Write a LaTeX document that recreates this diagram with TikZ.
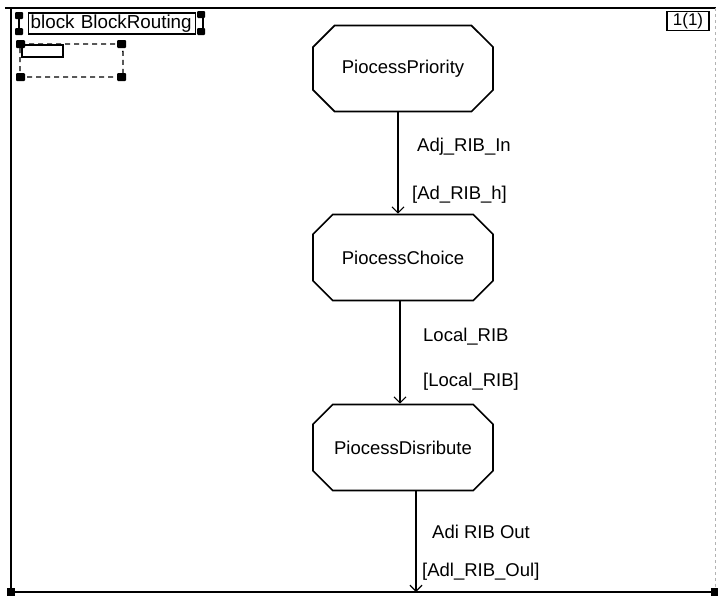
\documentclass[tikz,border=0pt]{standalone}
\usepackage{fontspec}
\setmainfont{Liberation Sans}
\usetikzlibrary{shapes.misc,arrows.meta}
\begin{document}
\begin{tikzpicture}[x=1pt,y=-1pt,
  proc/.style={draw,line width=1.6pt,chamfered rectangle,chamfered rectangle xsep=18pt,chamfered rectangle ysep=13pt,minimum width=180pt,minimum height=86pt,inner sep=0pt,font=\fontsize{18.5}{22}\selectfont},
  lbl/.style={anchor=west,inner sep=0pt,font=\fontsize{18.5}{22}\selectfont},
  flow/.style={line width=1.4pt,-{Straight Barb[length=6pt,width=12pt,line width=1.2pt]}},
  handle/.style={fill=black,rounded corners=1pt}]
\useasboundingbox (0,0) rectangle (718,597);
% frame
\draw[line width=1.2pt] (5,8) -- (716,8);
\draw[line width=2.8pt] (11,8) -- (11,592);
\draw[line width=1.8pt] (11,592) -- (716,592);
\draw[gray!60,dashed,line width=0.8pt] (715,8) -- (715,592);
\fill (7,588) rectangle (15,596);
\fill (711,588) rectangle (718,596);
% block header
\node[draw,line width=1.4pt,anchor=west,inner xsep=2pt,inner ysep=0pt,minimum height=21pt,minimum width=167pt,text width=163pt,align=left,font=\fontsize{18.8}{20}\selectfont] (hdr) at (28,23.5) {block BlockRouting};
\draw[line width=1.8pt] (19,15) -- (19,31);
\fill[handle] (15,12) rectangle (23,19);
\fill[handle] (15,28) rectangle (23,35);
\draw[line width=1.8pt] (198,15) -- (203,15) -- (203,31) -- (198,31);
\fill[handle] (197,11) rectangle (205,18);
\fill[handle] (197,28) rectangle (205,35);
% symbol area
\draw[line width=1.4pt,dash pattern=on 5pt off 4pt] (20,44) -- (121,44) -- (123,52) -- (123,77) -- (20,77) -- cycle;
\draw[line width=1.4pt] (22,45) rectangle (63,57);
\fill[handle] (16,40) rectangle (25,48);
\fill[handle] (117,40) rectangle (126,48);
\fill[handle] (16,73) rectangle (25,81);
\fill[handle] (117,73) rectangle (126,81);
% page number
\node[draw,line width=1.4pt,inner sep=1.5pt,minimum width=42pt,minimum height=18pt,font=\fontsize{17}{18}\selectfont] (pg) at (688,21) {1(1)};
% processes
\node[proc] (pp) at (403,68.5) {PiocessPriority};
\node[proc] (pc) at (403,257.5) {PiocessChoice};
\node[proc] (pd) at (403,447.5) {PiocessDisribute};
\coordinate (out) at (416,592);
% flows
\draw[flow] ([xshift=-5pt]pp.south) -- ([xshift=-5pt]pc.north);
\draw[flow] ([xshift=-3pt]pc.south) -- ([xshift=-3pt]pd.north);
\draw[flow] ([xshift=13pt]pd.south) -- (out);
% labels
\node[lbl] (l1) at (417,147) {Adj\_RIB\_In};
\node[lbl] (l2) at (412,195) {[Ad\_RIB\_h]};
\node[lbl] (l3) at (423,337) {Local\_RIB};
\node[lbl] (l4) at (423,382) {[Local\_RIB]};
\node[lbl] (l5) at (432,532) {Adi RIB Out};
\node[lbl] (l6) at (422,572) {[Adl\_RIB\_Oul]};
\end{tikzpicture}
\end{document}
